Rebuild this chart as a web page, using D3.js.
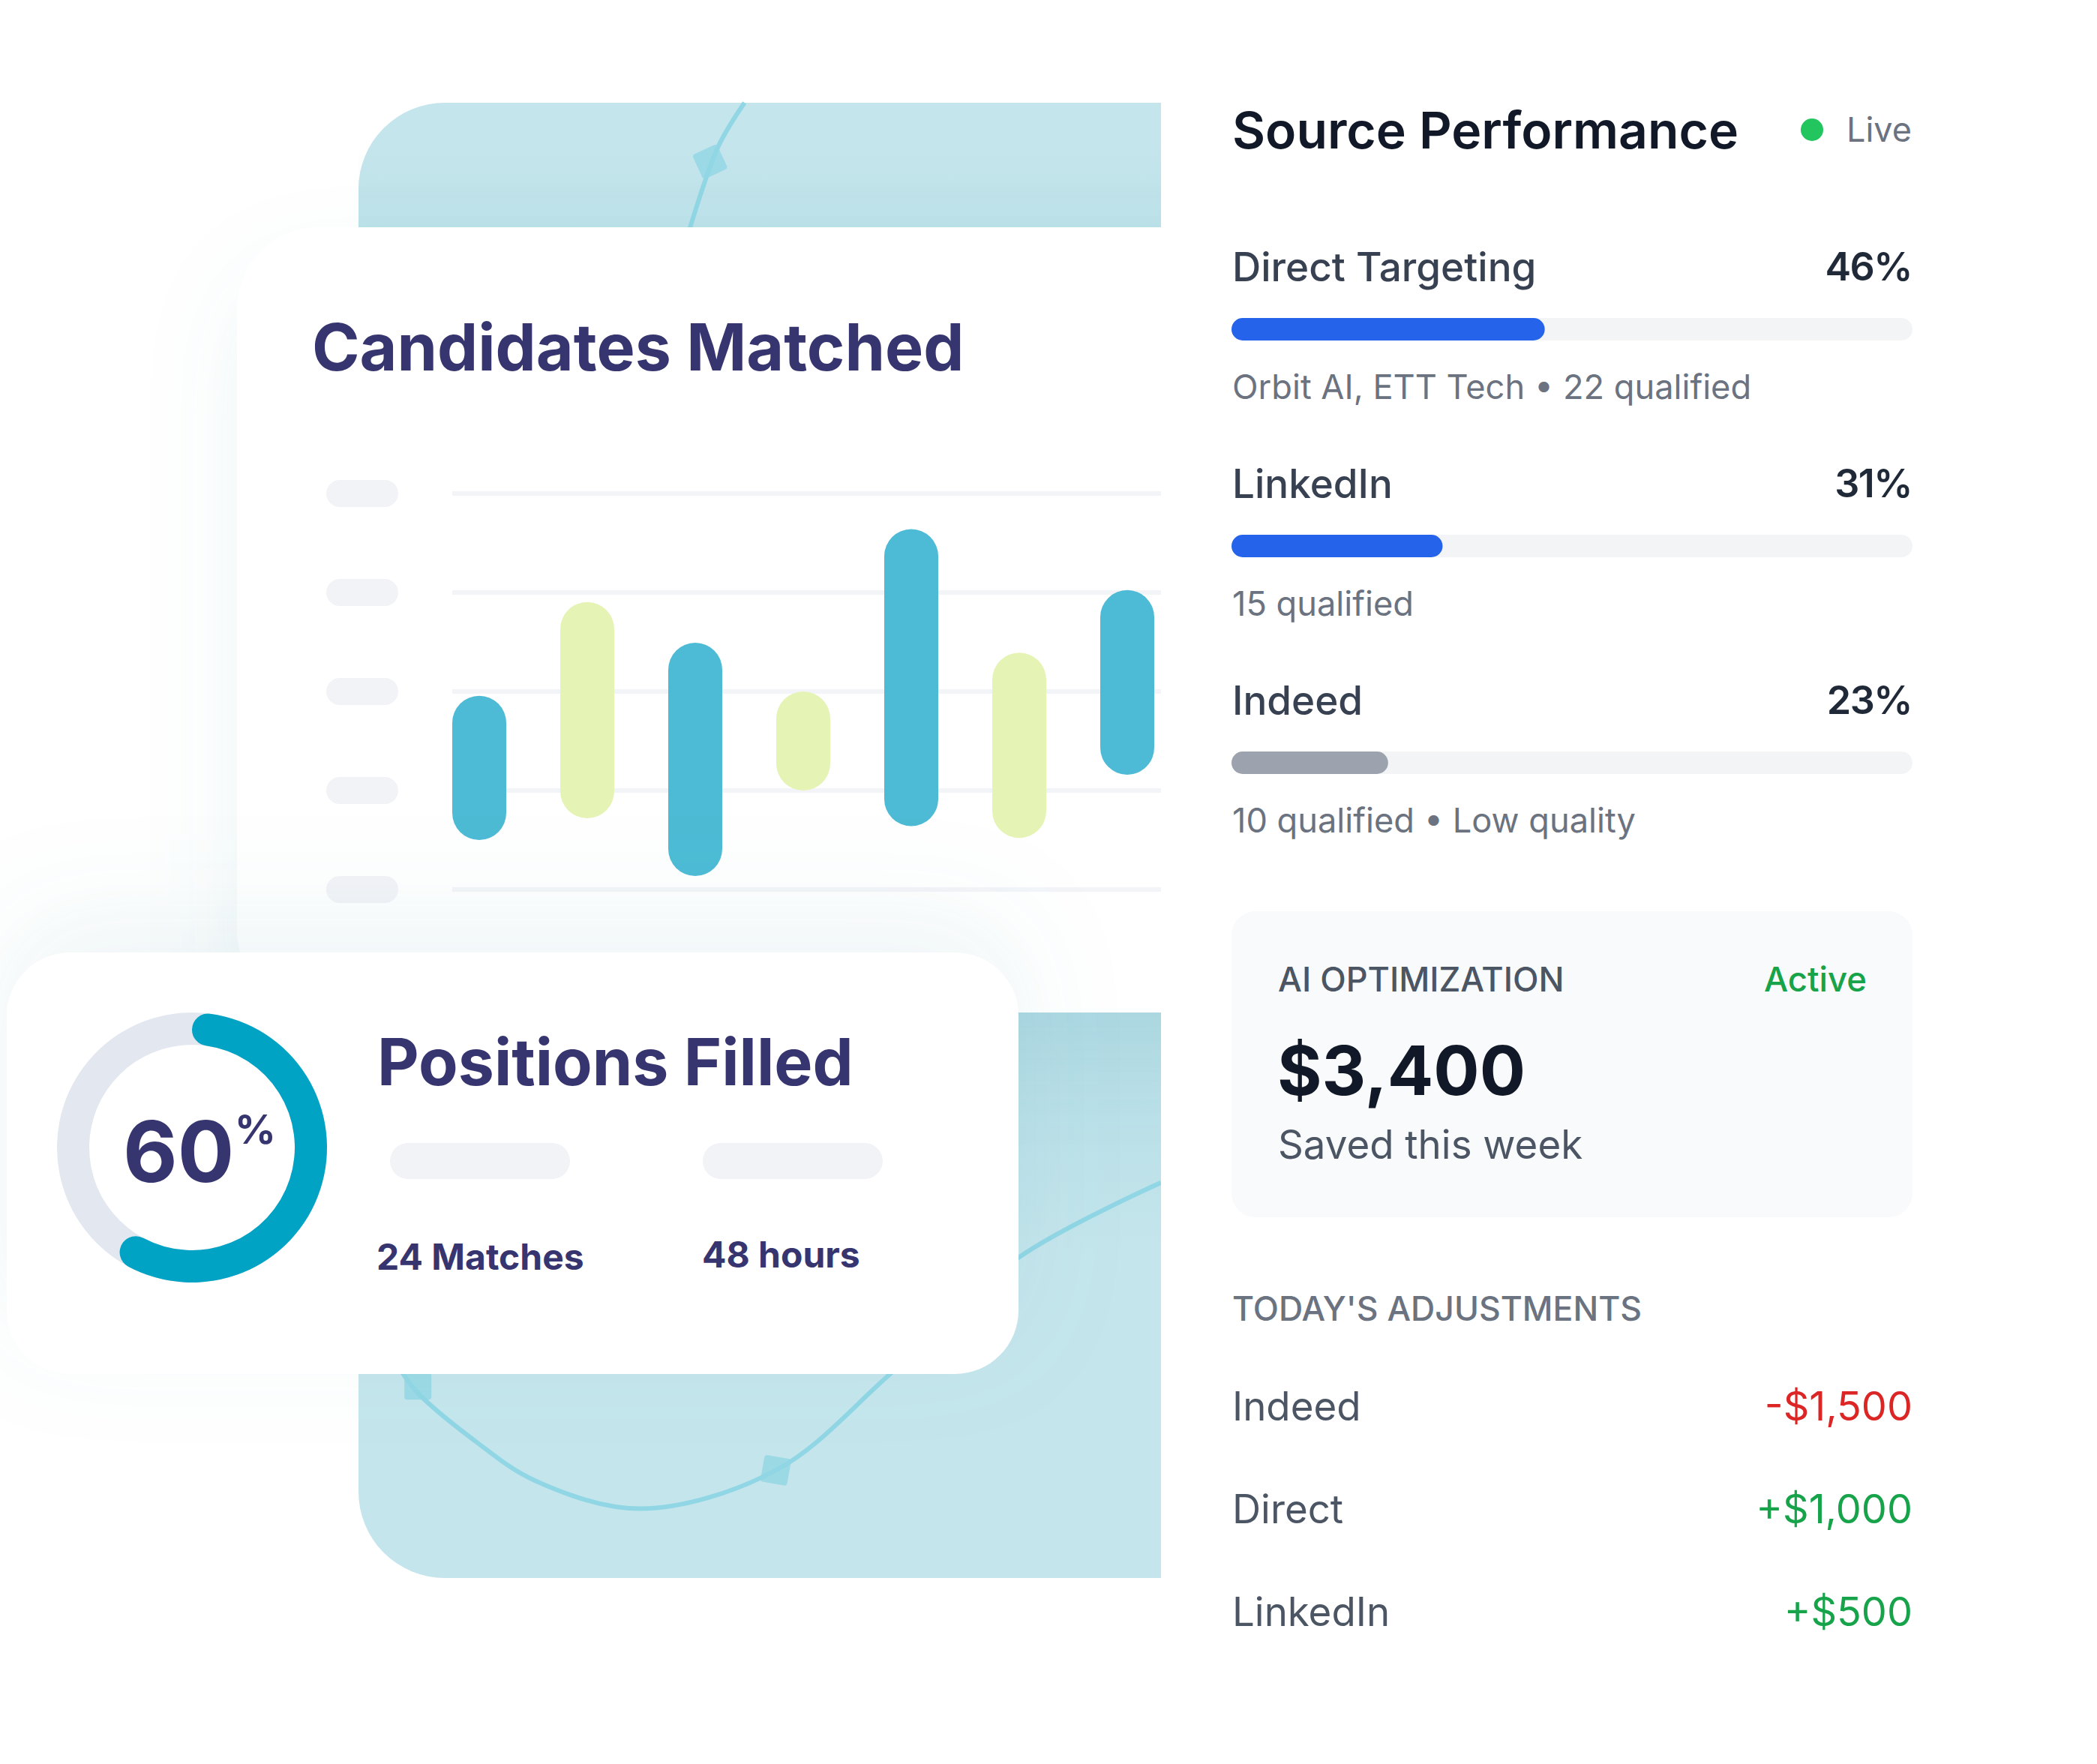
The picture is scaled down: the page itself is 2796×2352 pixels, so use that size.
<!DOCTYPE html>
<html>
<head>
<meta charset="utf-8">
<script src="https://cdn.jsdelivr.net/npm/d3@7"></script>
<style>
  html, body { margin: 0; background: #fff; }
  text { font-family: Inter, "Noto Sans", sans-serif; }
</style>
</head>
<body>
<svg id="chart" width="2796" height="2352"></svg>
<script>
// bar chart: each bar floats between a low and a high value
var barCats = ["a", "b", "c", "d", "e", "f", "g"];
var barLow = [12.5, 18, 3.4, 25, 16, 13, 29];
var barHigh = [48.9, 72.6, 62.3, 50, 91, 59.8, 75.6];
var barKind = ["teal", "lime", "teal", "lime", "teal", "lime", "teal"];
var gridVals = [100, 75, 50, 25, 0];

var donutValue = 60;
var filledLabels = ["24 Matches", "48 hours"];

var sourceNames = ["Direct Targeting", "LinkedIn", "Indeed"];
var sourcePct = [46, 31, 23];
var sourceNotes = ["Orbit AI, ETT Tech • 22 qualified", "15 qualified", "10 qualified • Low quality"];
var sourceLow = [false, false, true];

var adjNames = ["Indeed", "Direct", "LinkedIn"];
var adjVals = [-1500, 1000, 500];

// background curve, in percent of the teal panel
var curveTopX = [48.1, 44.8, 41.3];
var curveTopY = [0, 3, 8.5];
var curveBotX = [100, 82.2, 66.4, 52, 35.2, 22, 14.5, 7.3, 4.9];
var curveBotY = [73.2, 78.3, 86.1, 92.7, 95.3, 93.4, 90.7, 87.4, 85.6];
var markerX = [43.8, 52.0, 7.4];
var markerY = [4.0, 92.7, 87.0];
var markerRot = [-25, 10, 0];

var navy = "#37356f", ink = "#111827", grey = "#6b7280", slate = "#4b5563", green = "#16a34a";

var svg = d3.select("#chart");
var defs = svg.append("defs");

function shadow(id, dy, blur, op) {
  defs.append("filter").attr("id", id)
    .attr("x", "-40%").attr("y", "-60%").attr("width", "180%").attr("height", "220%")
    .append("feDropShadow")
    .attr("dx", 0).attr("dy", dy).attr("stdDeviation", blur)
    .attr("flood-color", "#5f9dab").attr("flood-opacity", op);
}
shadow("cardShadow", 60, 60, 0.10);
shadow("fillShadow", -45, 70, 0.10);

function fade(id, top, bottom) {
  var g = defs.append("linearGradient").attr("id", id)
    .attr("x1", 0).attr("y1", 0).attr("x2", 0).attr("y2", 1);
  g.append("stop").attr("offset", 0).attr("stop-color", "#2f9db5").attr("stop-opacity", top);
  g.append("stop").attr("offset", 1).attr("stop-color", "#2f9db5").attr("stop-opacity", bottom);
}
fade("fadeTop", 0, 0.06);
fade("fadeBelow", 0.12, 0);

defs.append("clipPath").attr("id", "leftClip")
  .append("rect").attr("x", 0).attr("y", 0).attr("width", 1548).attr("height", 2352);

var left = svg.append("g").attr("clip-path", "url(#leftClip)");

// ---- teal panel
var panelX = d3.scaleLinear().domain([0, 100]).range([478, 1548]);
var panelY = d3.scaleLinear().domain([0, 100]).range([137, 2104]);

left.append("rect")
  .attr("x", panelX(0)).attr("y", panelY(0))
  .attr("width", 1400).attr("height", panelY(100) - panelY(0))
  .attr("rx", 115).attr("fill", "#c5e5ec");

// card shadows darken the panel next to the card edges
left.append("rect")
  .attr("x", panelX(0)).attr("y", 190).attr("width", 1070).attr("height", 113)
  .attr("fill", "url(#fadeTop)");
left.append("rect")
  .attr("x", panelX(0)).attr("y", 1350).attr("width", 1070).attr("height", 330)
  .attr("fill", "url(#fadeBelow)");

var curve = d3.line().curve(d3.curveCatmullRom)
  .x(function(d) { return panelX(d[0]); })
  .y(function(d) { return panelY(d[1]); });

[[curveTopX, curveTopY], [curveBotX, curveBotY]].forEach(function(c) {
  left.append("path")
    .attr("d", curve(d3.zip(c[0], c[1])))
    .attr("fill", "none").attr("stroke", "#90d6e4").attr("stroke-width", 6);
});

left.selectAll(".marker").data(d3.range(markerX.length)).enter().append("rect")
  .attr("class", "marker")
  .attr("x", -18).attr("y", -18).attr("width", 36).attr("height", 36).attr("rx", 4)
  .attr("fill", "#90d6e4").attr("opacity", 0.8)
  .attr("transform", function(i) {
    return "translate(" + panelX(markerX[i]) + "," + panelY(markerY[i]) + ") rotate(" + markerRot[i] + ")";
  });

// ---- main card
left.append("rect")
  .attr("x", 316).attr("y", 303).attr("width", 1400).attr("height", 1047)
  .attr("rx", 110).attr("fill", "#fff").attr("filter", "url(#cardShadow)");

left.append("text").text("Candidates Matched")
  .attr("x", 416).attr("y", 494)
  .attr("font-size", 86).attr("font-weight", 700).attr("fill", navy);

var y = d3.scaleLinear().domain([0, 100]).range([1186, 658]);
var x = d3.scaleBand().domain(barCats).range([603, 1539]).paddingInner(0.5).paddingOuter(0);

left.selectAll(".grid").data(gridVals).enter().append("rect")
  .attr("class", "grid")
  .attr("x", 603).attr("width", 945)
  .attr("y", function(d) { return y(d) - 3; }).attr("height", 6)
  .attr("fill", "#f3f4f8");

left.selectAll(".tick").data(gridVals).enter().append("rect")
  .attr("class", "tick")
  .attr("x", 435).attr("width", 96)
  .attr("y", function(d) { return y(d) - 18; }).attr("height", 36)
  .attr("rx", 18).attr("fill", "#f2f3f7");

left.selectAll(".bar").data(barCats).enter().append("rect")
  .attr("class", "bar")
  .attr("x", function(d) { return x(d); })
  .attr("width", x.bandwidth())
  .attr("y", function(d, i) { return y(barHigh[i]); })
  .attr("height", function(d, i) { return y(barLow[i]) - y(barHigh[i]); })
  .attr("rx", x.bandwidth() / 2)
  .attr("fill", function(d, i) { return barKind[i] == "teal" ? "#4dbbd5" : "#e5f4b5"; });

// ---- positions card
left.append("rect")
  .attr("x", 9).attr("y", 1270).attr("width", 1349).attr("height", 562)
  .attr("rx", 85).attr("fill", "#fff").attr("filter", "url(#fillShadow)");

var donut = left.append("g").attr("transform", "translate(256,1530)");
var arc = d3.arc().innerRadius(137).outerRadius(180);
donut.append("path")
  .attr("d", arc({ startAngle: 0, endAngle: 2 * Math.PI }))
  .attr("fill", "#e3e7ef");
donut.append("path")
  .attr("d", arc.cornerRadius(21.5)({ startAngle: 0, endAngle: donutValue / 100 * 2 * Math.PI }))
  .attr("fill", "#00a3c4");

left.append("text").text(donutValue)
  .attr("x", 164).attr("y", 1576)
  .attr("font-size", 112).attr("font-weight", 700).attr("fill", navy);
left.append("text").text("%")
  .attr("x", 313).attr("y", 1525)
  .attr("font-size", 54).attr("font-weight", 700).attr("fill", navy);

left.append("text").text("Positions Filled")
  .attr("x", 503).attr("y", 1447)
  .attr("font-size", 86).attr("font-weight", 700).attr("fill", navy);

var pillX = [520, 937], labelX = [502, 936], labelY = [1693, 1690];
filledLabels.forEach(function(t, i) {
  left.append("rect")
    .attr("x", pillX[i]).attr("y", 1524).attr("width", 240).attr("height", 48)
    .attr("rx", 24).attr("fill", "#f2f3f7");
  left.append("text").text(t)
    .attr("x", labelX[i]).attr("y", labelY[i])
    .attr("font-size", 48).attr("font-weight", 700).attr("fill", navy);
});

// ---- right panel
var right = svg.append("g");
var L = 1643, R = 2549;

right.append("text").text("Source Performance")
  .attr("x", L).attr("y", 198)
  .attr("font-size", 67.8).attr("font-weight", 600).attr("fill", ink);
right.append("circle").attr("cx", 2416).attr("cy", 173).attr("r", 15).attr("fill", "#22c55e");
right.append("text").text("Live")
  .attr("x", R).attr("y", 189).attr("text-anchor", "end")
  .attr("font-size", 45).attr("fill", grey);

var pct = d3.scaleLinear().domain([0, 100]).range([0, 908]);
var rowY = d3.scaleLinear().domain([0, 1]).range([0, 289]);

var rows = right.selectAll(".source").data(sourceNames).enter().append("g")
  .attr("class", "source")
  .attr("transform", function(d, i) { return "translate(0," + rowY(i) + ")"; });

rows.append("text").text(function(d) { return d; })
  .attr("x", L).attr("y", 375)
  .attr("font-size", 53).attr("font-weight", 500).attr("fill", "#374151");
rows.append("text").text(function(d, i) { return sourcePct[i] + "%"; })
  .attr("x", R).attr("y", 374).attr("text-anchor", "end")
  .attr("font-size", 52).attr("font-weight", 600).attr("letter-spacing", -1.5).attr("fill", "#1f2937");
rows.append("rect")
  .attr("x", 1642).attr("y", 424).attr("width", pct(100)).attr("height", 30)
  .attr("rx", 15).attr("fill", "#f3f4f6");
rows.append("rect")
  .attr("x", 1642).attr("y", 424).attr("height", 30)
  .attr("width", function(d, i) { return pct(sourcePct[i]); })
  .attr("rx", 15)
  .attr("fill", function(d, i) { return sourceLow[i] ? "#9ca3af" : "#2563eb"; });
rows.append("text").text(function(d, i) { return sourceNotes[i]; })
  .attr("x", L).attr("y", 532)
  .attr("font-size", 45.2).attr("fill", grey);

// ---- optimization card
right.append("rect")
  .attr("x", 1642).attr("y", 1215).attr("width", 908).attr("height", 408)
  .attr("rx", 32).attr("fill", "#f9fafb");
right.append("text").text("AI OPTIMIZATION")
  .attr("x", 1704).attr("y", 1322)
  .attr("font-size", 45).attr("font-weight", 500).attr("fill", slate);
right.append("text").text("Active")
  .attr("x", 2489).attr("y", 1322).attr("text-anchor", "end")
  .attr("font-size", 45.5).attr("font-weight", 500).attr("fill", green);
right.append("text").text("$3,400")
  .attr("x", 1703).attr("y", 1460)
  .attr("font-size", 91).attr("font-weight", 700).attr("fill", ink);
right.append("text").text("Saved this week")
  .attr("x", 1704).attr("y", 1545)
  .attr("font-size", 52.8).attr("fill", slate);

// ---- adjustments
right.append("text").text("TODAY'S ADJUSTMENTS")
  .attr("x", L).attr("y", 1761)
  .attr("font-size", 44.6).attr("font-weight", 500).attr("fill", grey);

var money = d3.format(",");
var adjY = d3.scaleLinear().domain([0, 1]).range([1894, 2031]);

adjNames.forEach(function(n, i) {
  right.append("text").text(n)
    .attr("x", L).attr("y", adjY(i))
    .attr("font-size", 52.8).attr("fill", slate);
  right.append("text").text((adjVals[i] < 0 ? "-$" : "+$") + money(Math.abs(adjVals[i])))
    .attr("x", R + 1).attr("y", adjY(i)).attr("text-anchor", "end")
    .attr("font-size", 54).attr("fill", adjVals[i] < 0 ? "#dc2626" : green);
});
</script>
</body>
</html>
